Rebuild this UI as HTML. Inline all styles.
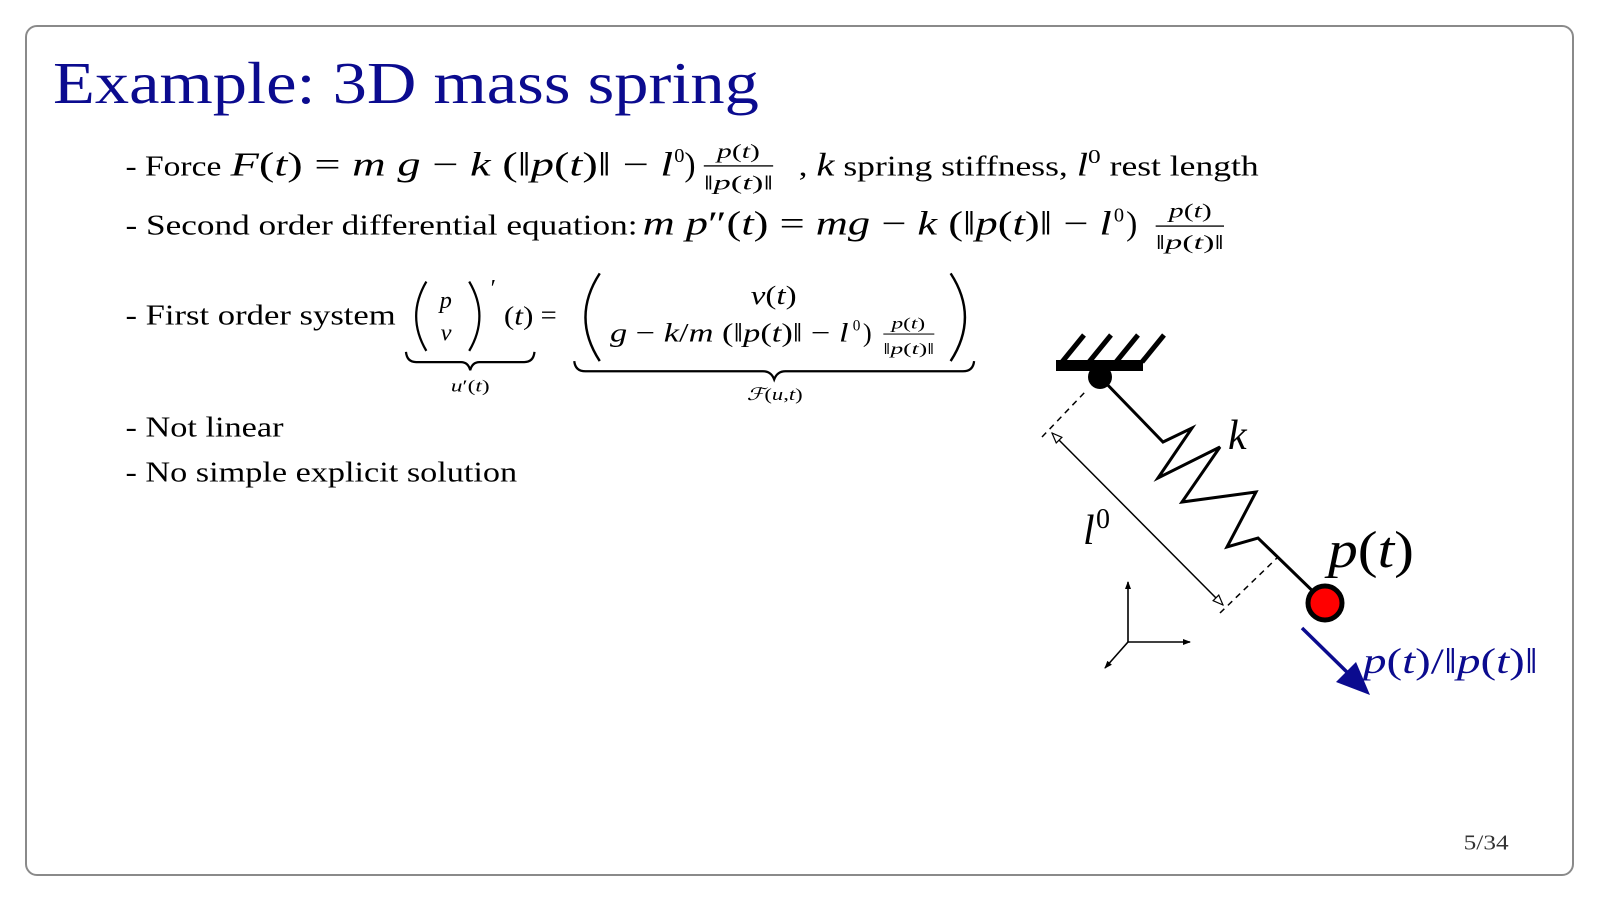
<!DOCTYPE html>
<html><head><meta charset="utf-8"><style>html,body{margin:0;padding:0;background:#fff;}svg{display:block}</style></head>
<body>
<svg width="1600" height="902" viewBox="0 0 1600 902" xmlns="http://www.w3.org/2000/svg" font-family="'Liberation Serif', serif">
<rect x="26" y="26" width="1547" height="849" rx="11" fill="#fff" stroke="#8a8a8a" stroke-width="2"/>
<g transform="scale(1.02)">
<text x="52" y="101" font-size="58" fill="#0b0b8f" textLength="692" lengthAdjust="spacingAndGlyphs">Example: 3D mass spring</text>

<!-- line 1 -->
<text x="123" y="172" font-size="28" textLength="94" lengthAdjust="spacingAndGlyphs">- Force</text>
<text x="226" y="172" font-size="33" textLength="434" lengthAdjust="spacingAndGlyphs"><tspan font-style="italic">F</tspan>(<tspan font-style="italic">t</tspan>) = <tspan font-style="italic">m g</tspan> − <tspan font-style="italic">k</tspan> (‖<tspan font-style="italic">p</tspan>(<tspan font-style="italic">t</tspan>)‖ − <tspan font-style="italic">l</tspan></text>
<text x="661" y="159" font-size="20">0</text>
<text x="671" y="172" font-size="33">)</text>
<text x="703" y="155" font-size="20" textLength="42" lengthAdjust="spacingAndGlyphs"><tspan font-style="italic">p</tspan>(<tspan font-style="italic">t</tspan>)</text>
<rect x="690" y="162" width="68" height="1.3" fill="#000"/>
<text x="690" y="186" font-size="20" textLength="68" lengthAdjust="spacingAndGlyphs">‖<tspan font-style="italic">p</tspan>(<tspan font-style="italic">t</tspan>)‖</text>
<text x="783" y="172" font-size="28" textLength="451" lengthAdjust="spacingAndGlyphs">, <tspan font-style="italic" font-size="32">k</tspan> spring stiffness, <tspan font-style="italic" font-size="32">l</tspan><tspan font-size="20" dy="-12">0</tspan><tspan dy="12"> rest length</tspan></text>

<!-- line 2 -->
<text x="123" y="230" font-size="28" textLength="502" lengthAdjust="spacingAndGlyphs">- Second order differential equation:</text>
<text x="630" y="230" font-size="33" textLength="460" lengthAdjust="spacingAndGlyphs"><tspan font-style="italic">m p</tspan>″(<tspan font-style="italic">t</tspan>) = <tspan font-style="italic">mg</tspan> − <tspan font-style="italic">k</tspan> (‖<tspan font-style="italic">p</tspan>(<tspan font-style="italic">t</tspan>)‖ − <tspan font-style="italic">l</tspan></text>
<text x="1092" y="217" font-size="20">0</text>
<text x="1104" y="230" font-size="33">)</text>
<text x="1146" y="213" font-size="20" textLength="42" lengthAdjust="spacingAndGlyphs"><tspan font-style="italic">p</tspan>(<tspan font-style="italic">t</tspan>)</text>
<rect x="1133" y="221" width="67" height="1.3" fill="#000"/>
<text x="1133" y="244" font-size="20" textLength="67" lengthAdjust="spacingAndGlyphs">‖<tspan font-style="italic">p</tspan>(<tspan font-style="italic">t</tspan>)‖</text>

<!-- line 3 -->
<text x="123" y="318" font-size="28" textLength="265" lengthAdjust="spacingAndGlyphs">- First order system</text>
<path d="M418 276 Q398 310 418 344" fill="none" stroke="#000" stroke-width="2.2"/>
<path d="M460 276 Q480 310 460 344" fill="none" stroke="#000" stroke-width="2.2"/>
<text x="431" y="302" font-size="24" font-style="italic">p</text>
<text x="432" y="334" font-size="24" font-style="italic">v</text>
<text x="481" y="290" font-size="24">′</text>
<text x="494" y="318" font-size="26" textLength="29" lengthAdjust="spacingAndGlyphs">(<tspan font-style="italic">t</tspan>)</text>
<text x="530" y="318" font-size="28">=</text>
<path d="M588 268 Q560 311 588 354" fill="none" stroke="#000" stroke-width="2.4"/>
<path d="M932 268 Q960 311 932 354" fill="none" stroke="#000" stroke-width="2.4"/>
<text x="736" y="298" font-size="26" textLength="45" lengthAdjust="spacingAndGlyphs"><tspan font-style="italic">v</tspan>(<tspan font-style="italic">t</tspan>)</text>
<text x="598" y="335" font-size="26" textLength="234" lengthAdjust="spacingAndGlyphs"><tspan font-style="italic">g</tspan> − <tspan font-style="italic">k</tspan>/<tspan font-style="italic">m</tspan> (‖<tspan font-style="italic">p</tspan>(<tspan font-style="italic">t</tspan>)‖ − <tspan font-style="italic">l</tspan></text>
<text x="836" y="324" font-size="15">0</text>
<text x="846" y="335" font-size="26">)</text>
<text x="874" y="322" font-size="15" textLength="33" lengthAdjust="spacingAndGlyphs"><tspan font-style="italic">p</tspan>(<tspan font-style="italic">t</tspan>)</text>
<rect x="866" y="327" width="50" height="1" fill="#000"/>
<text x="866" y="347" font-size="15" textLength="50" lengthAdjust="spacingAndGlyphs">‖<tspan font-style="italic">p</tspan>(<tspan font-style="italic">t</tspan>)‖</text>
<!-- underbraces -->
<path d="M398 345 Q399 355 408 355 L452 355 Q459 355 461 363 Q463 355 470 355 L514 355 Q523 355 524 345" fill="none" stroke="#000" stroke-width="2.2"/>
<text x="442" y="384" font-size="17" textLength="38" lengthAdjust="spacingAndGlyphs"><tspan font-style="italic">u</tspan>′(<tspan font-style="italic">t</tspan>)</text>
<path d="M563 354 Q564 364 574 364 L748 364 Q756 364 759 372 Q762 364 770 364 L944 364 Q954 364 955 354" fill="none" stroke="#000" stroke-width="2.2"/>
<text x="732" y="392" font-size="17" textLength="55" lengthAdjust="spacingAndGlyphs"><tspan font-style="italic">ℱ</tspan>(<tspan font-style="italic">u</tspan>,<tspan font-style="italic">t</tspan>)</text>

<text x="123" y="428" font-size="28" textLength="155" lengthAdjust="spacingAndGlyphs">- Not linear</text>
<text x="123" y="472" font-size="28" textLength="384" lengthAdjust="spacingAndGlyphs">- No simple explicit solution</text>

<text x="1435" y="833" font-size="21" fill="#333" textLength="44" lengthAdjust="spacingAndGlyphs">5/34</text>
</g>

<!-- diagram (real coords) -->
<defs>
<marker id="oa" markerWidth="12" markerHeight="10" refX="11" refY="5" orient="auto-start-reverse" markerUnits="userSpaceOnUse"><path d="M1 1 L11 5 L1 9 Z" fill="#fff" stroke="#000" stroke-width="1.2"/></marker>
<marker id="sa" markerWidth="8" markerHeight="6" refX="7" refY="3" orient="auto" markerUnits="userSpaceOnUse"><path d="M0 0 L8 3 L0 6 Z" fill="#000"/></marker>
</defs>
<rect x="1056" y="360" width="87" height="11" fill="#000"/>
<g stroke="#000" stroke-width="5">
<line x1="1062" y1="362" x2="1084" y2="335"/>
<line x1="1089" y1="362" x2="1111" y2="335"/>
<line x1="1116" y1="362" x2="1138" y2="335"/>
<line x1="1142" y1="362" x2="1164" y2="335"/>
</g>
<circle cx="1100" cy="377" r="12" fill="#000"/>
<polyline points="1100,377 1163,442 1192,428 1158,478 1220,447 1182,502 1256,492 1227,547 1258,538 1325,603" fill="none" stroke="#000" stroke-width="3" stroke-linejoin="miter"/>
<circle cx="1325" cy="603" r="17" fill="#f00" stroke="#000" stroke-width="5"/>
<g stroke="#000" stroke-width="1.5" stroke-dasharray="6,5" fill="none">
<line x1="1042" y1="437" x2="1086" y2="391"/>
<line x1="1220" y1="613" x2="1278" y2="557"/>
</g>
<line x1="1052" y1="433" x2="1223" y2="605" stroke="#000" stroke-width="1.5" marker-start="url(#oa)" marker-end="url(#oa)"/>
<g stroke="#000" stroke-width="1.6">
<line x1="1128" y1="642" x2="1128" y2="582" marker-end="url(#sa)"/>
<line x1="1128" y1="642" x2="1190" y2="642" marker-end="url(#sa)"/>
<line x1="1128" y1="642" x2="1105" y2="668" marker-end="url(#sa)"/>
</g>
<text x="1228" y="449" font-size="42" font-style="italic">k</text>
<text x="1083" y="544" font-size="42" font-style="italic">l</text>
<text x="1096" y="528" font-size="28">0</text>
<text x="1328" y="567" font-size="52" textLength="86" lengthAdjust="spacingAndGlyphs"><tspan font-style="italic">p</tspan>(<tspan font-style="italic">t</tspan>)</text>
<line x1="1302" y1="628" x2="1352" y2="677" stroke="#0b0b8f" stroke-width="3.5"/>
<path d="M1370 695 L1336 682 L1356 662 Z" fill="#0b0b8f"/>
<text x="1363" y="673" font-size="36" fill="#0b0b8f" textLength="175" lengthAdjust="spacingAndGlyphs"><tspan font-style="italic">p</tspan>(<tspan font-style="italic">t</tspan>)/‖<tspan font-style="italic">p</tspan>(<tspan font-style="italic">t</tspan>)‖</text>
</svg>
</body></html>
